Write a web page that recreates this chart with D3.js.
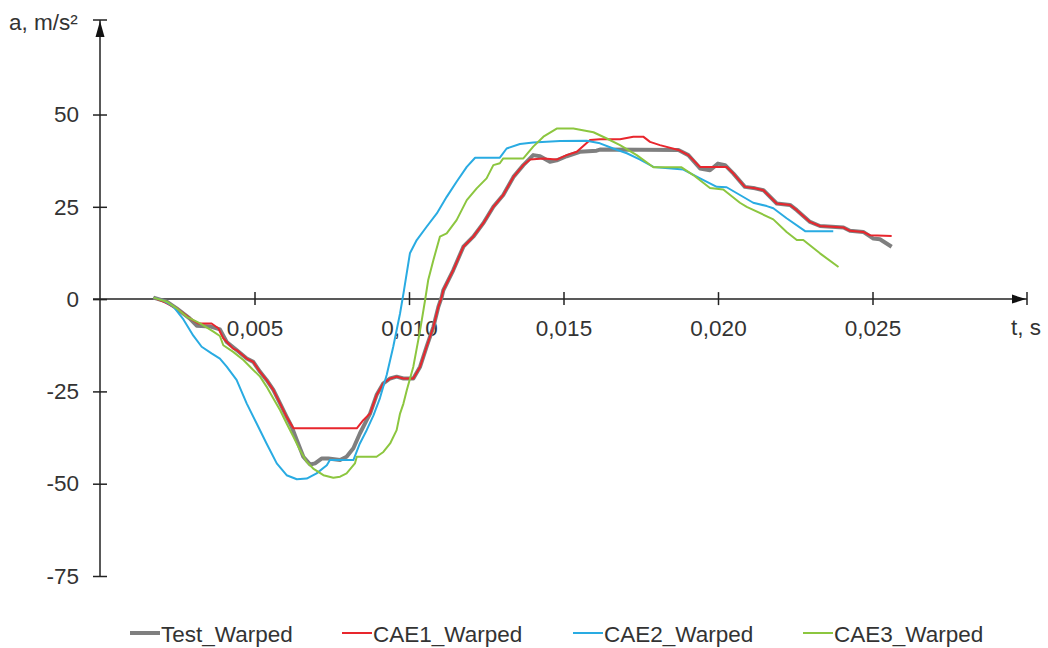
<!DOCTYPE html>
<html><head><meta charset="utf-8">
<script src="https://cdn.jsdelivr.net/npm/d3@7"></script>
<style>body{margin:0;background:#fff}svg{display:block}text{font-family:Arial,"Liberation Sans",sans-serif;fill:#333}</style>
</head><body><svg id="c" width="1048" height="648"></svg>
<script>
// time in ms, acceleration in m/s²
const testWarped = [[1.73,0.4],[2.16,-0.7],[2.48,-2.5],[2.9,-5.2],[3.13,-7.2],[3.56,-7.4],[3.88,-8.2],[4.10,-11.6],[4.42,-13.8],[4.75,-16.1],[4.96,-17.0],[5.18,-19.7],[5.39,-21.9],[5.61,-24.6],[5.83,-28.3],[6.04,-31.9],[6.20,-34.5],[6.37,-38.2],[6.58,-42.7],[6.80,-44.8],[6.96,-44.5],[7.17,-43.2],[7.39,-43.2],[7.77,-43.6],[7.98,-42.7],[8.20,-40.4],[8.41,-36.4],[8.63,-32.8],[8.74,-31.0],[8.95,-26.0],[9.17,-22.8],[9.39,-21.5],[9.60,-21.0],[9.82,-21.5],[10.14,-21.5],[10.36,-18.3],[10.57,-12.9],[10.79,-7.5],[10.95,-2.1],[11.06,0.6],[11.11,2.4],[11.43,7.8],[11.76,14.2],[12.08,16.9],[12.40,20.5],[12.73,25.0],[13.05,28.2],[13.38,33.1],[13.70,36.3],[14.02,39.0],[14.24,38.7],[14.56,37.2],[14.78,37.6],[15.10,38.7],[15.53,39.9],[16.07,40.2],[16.18,40.5],[18.72,40.4],[19.04,39.0],[19.42,35.4],[19.74,34.9],[20.0,36.7],[20.23,36.3],[20.50,34.0],[20.87,30.4],[21.20,30.0],[21.47,29.5],[21.90,25.9],[22.33,25.5],[22.55,24.1],[22.98,20.9],[23.30,19.8],[24.06,19.4],[24.27,18.5],[24.70,18.2],[25.03,16.4],[25.24,16.2],[25.62,14.2]];
const cae1Warped = [[1.73,0.4],[2.05,-0.7],[2.48,-2.5],[2.91,-5.2],[3.18,-6.6],[3.61,-6.6],[3.83,-7.9],[3.99,-10.6],[4.31,-13.4],[4.42,-13.8],[4.75,-16.1],[4.96,-17.0],[5.18,-19.7],[5.39,-21.9],[5.61,-24.6],[5.83,-28.3],[6.04,-31.9],[6.26,-35.0],[8.31,-35.0],[8.52,-32.8],[8.74,-31.0],[8.95,-26.0],[9.17,-22.8],[9.39,-21.5],[9.60,-21.0],[9.82,-21.5],[10.14,-21.5],[10.36,-18.3],[10.57,-12.9],[10.79,-7.5],[10.95,-2.1],[11.06,0.6],[11.11,2.4],[11.43,7.8],[11.76,14.2],[12.08,16.9],[12.40,20.5],[12.73,25.0],[13.05,28.2],[13.38,33.1],[13.70,36.3],[13.92,37.8],[14.35,38.1],[14.78,37.8],[15.10,39.0],[15.43,39.9],[15.86,43.1],[16.18,43.3],[16.83,43.3],[17.26,44.0],[17.58,44.0],[17.80,42.6],[18.12,41.7],[18.72,40.4],[19.04,39.0],[19.42,35.8],[20.28,35.8],[20.50,34.0],[20.87,30.4],[21.20,30.0],[21.47,29.5],[21.90,25.9],[22.33,25.5],[22.55,24.1],[22.98,20.9],[23.30,19.8],[24.06,19.4],[24.27,18.5],[24.70,18.2],[24.92,17.3],[25.62,17.1]];
const cae2Warped = [[1.73,0.4],[2.05,-0.4],[2.37,-2.0],[2.70,-5.5],[3.02,-9.9],[3.29,-12.9],[3.61,-14.7],[3.88,-16.1],[4.10,-18.3],[4.42,-21.9],[4.75,-28.3],[5.07,-33.7],[5.39,-39.1],[5.72,-44.5],[6.04,-47.7],[6.37,-48.8],[6.69,-48.6],[7.01,-47.2],[7.34,-45.0],[7.44,-43.6],[8.20,-43.6],[8.41,-39.1],[8.63,-35.5],[8.85,-31.5],[9.06,-26.8],[9.28,-20.5],[9.49,-12.9],[9.71,-3.9],[9.82,1.5],[10.03,12.4],[10.25,16.0],[10.57,19.6],[10.90,23.2],[11.22,27.7],[11.54,31.8],[11.87,35.8],[12.14,38.3],[12.94,38.3],[13.16,40.8],[13.59,42.0],[14.02,42.4],[14.89,42.8],[15.75,42.9],[16.18,42.2],[16.61,40.8],[17.05,39.5],[17.48,37.8],[17.91,35.8],[18.88,35.1],[19.42,32.7],[19.96,30.4],[20.28,30.3],[20.71,28.2],[21.14,26.1],[21.58,25.2],[21.79,24.6],[22.22,21.9],[22.82,18.4],[23.73,18.4]];
const cae3Warped = [[1.73,0.4],[2.16,-0.7],[2.48,-2.5],[2.81,-4.8],[3.24,-6.6],[3.67,-8.8],[3.88,-10.0],[3.99,-12.5],[4.31,-14.3],[4.64,-16.5],[4.96,-19.2],[5.18,-21.0],[5.39,-23.7],[5.61,-26.9],[5.83,-30.1],[6.04,-33.7],[6.26,-37.3],[6.47,-40.9],[6.69,-44.1],[6.90,-45.9],[7.23,-47.7],[7.55,-48.4],[7.77,-48.1],[7.98,-47.2],[8.25,-44.5],[8.31,-42.7],[8.95,-42.7],[9.17,-41.4],[9.39,-39.1],[9.60,-35.5],[9.71,-31.0],[9.82,-28.3],[9.93,-24.6],[10.14,-18.3],[10.36,-8.4],[10.52,-0.3],[10.62,5.1],[10.79,10.6],[11.0,16.9],[11.22,17.8],[11.54,21.4],[11.87,26.8],[12.19,30.0],[12.51,32.7],[12.73,36.3],[12.94,36.8],[13.05,38.1],[13.70,38.1],[14.02,41.3],[14.35,44.0],[14.78,46.2],[15.32,46.2],[15.97,45.2],[16.40,43.5],[16.83,41.7],[17.37,39.0],[17.91,35.7],[18.82,35.7],[19.20,33.6],[19.74,30.1],[20.17,29.7],[20.71,26.1],[20.93,25.0],[21.79,21.6],[22.22,18.2],[22.55,16.0],[22.76,16.0],[23.30,12.4],[23.9,8.7]];

const seriesNames = ["Test_Warped","CAE1_Warped","CAE2_Warped","CAE3_Warped"];
const seriesColors = ["#7f7f7f","#e8262d","#29abe2","#8cc63f"];
const seriesWidths = [4,2,2,2];
const xTicks = [0.005,0.010,0.015,0.020,0.025];
const yTicks = [-75,-50,-25,0,25,50];
const yLabel = "a, m/s²";
const xLabel = "t, s";

const FS = 22.5;
const svg = d3.select("#c");
const x = d3.scaleLinear().domain([0,0.030]).range([100,1027]);
const y = d3.scaleLinear().domain([-75,75.6]).range([576,20]);
const loc = d3.formatLocale({decimal:",",thousands:" ",grouping:[3],currency:["",""],minus:"-"});
const fx = loc.format(".3f");
const fy = loc.format("d");

// axes
const ax = svg.append("g").attr("transform",`translate(0,${y(0)})`)
  .call(d3.axisBottom(x).tickValues(xTicks).tickFormat(fx).tickSizeOuter(0).tickPadding(15));
ax.select(".domain").remove();
ax.selectAll(".tick line").attr("y1",-7).attr("y2",6).attr("stroke","#222").attr("stroke-width",1.5);
ax.selectAll(".tick text").attr("font-size",FS).attr("fill","#333").attr("font-family","Arial, 'Liberation Sans', sans-serif");

const ay = svg.append("g").attr("transform",`translate(${x(0)},0)`)
  .call(d3.axisLeft(y).tickValues(yTicks).tickFormat(fy).tickSizeOuter(0).tickPadding(15));
ay.select(".domain").remove();
ay.selectAll(".tick line").attr("x1",-7).attr("x2",7).attr("stroke","#222").attr("stroke-width",1.5);
ay.selectAll(".tick text").attr("font-size",FS).attr("fill","#333").attr("font-family","Arial, 'Liberation Sans', sans-serif");

// axis lines with arrows
svg.append("line").attr("x1",x(0)).attr("x2",x(0)).attr("y1",y(-75)).attr("y2",y.range()[1]).attr("stroke","#222").attr("stroke-width",1.5);
svg.append("line").attr("x1",x(0)-7).attr("x2",x(0)+7).attr("y1",y.range()[1]).attr("y2",y.range()[1]).attr("stroke","#222").attr("stroke-width",1.5);
svg.append("path").attr("d",`M${x(0)},${y.range()[1]+1}L${x(0)-4.5},${y.range()[1]+17}L${x(0)+4.5},${y.range()[1]+17}Z`).attr("fill","#111");
svg.append("line").attr("x1",x(0)-7).attr("x2",x.range()[1]).attr("y1",y(0)).attr("y2",y(0)).attr("stroke","#222").attr("stroke-width",1.5);
svg.append("line").attr("x1",x.range()[1]).attr("x2",x.range()[1]).attr("y1",y(0)-7).attr("y2",y(0)+6).attr("stroke","#222").attr("stroke-width",1.5);
svg.append("path").attr("d",`M${x.range()[1]-1},${y(0)}L${x.range()[1]-15},${y(0)-4.5}L${x.range()[1]-15},${y(0)+4.5}Z`).attr("fill","#111");

svg.append("text").attr("x",9).attr("y",30).attr("font-size",FS).text(yLabel);
svg.append("text").attr("x",1011).attr("y",335).attr("font-size",FS).text(xLabel);

// lines
const line = d3.line().x(d=>x(d[0]/1000)).y(d=>y(d[1]));
const data = [testWarped,cae1Warped,cae2Warped,cae3Warped];
data.forEach((s,i)=>{
  svg.append("path").datum(s).attr("d",line).attr("fill","none")
    .attr("stroke",seriesColors[i]).attr("stroke-width",seriesWidths[i]).attr("stroke-linejoin","round");
});

// legend
const legX = [130,342,573,803];
seriesNames.forEach((n,i)=>{
  const g = svg.append("g").attr("transform",`translate(${legX[i]},633)`);
  g.append("line").attr("x1",0).attr("x2",30).attr("stroke",seriesColors[i]).attr("stroke-width",seriesWidths[i]);
  g.append("text").attr("x",31).attr("y",8.5).attr("font-size",FS).text(n);
});
</script></body></html>
